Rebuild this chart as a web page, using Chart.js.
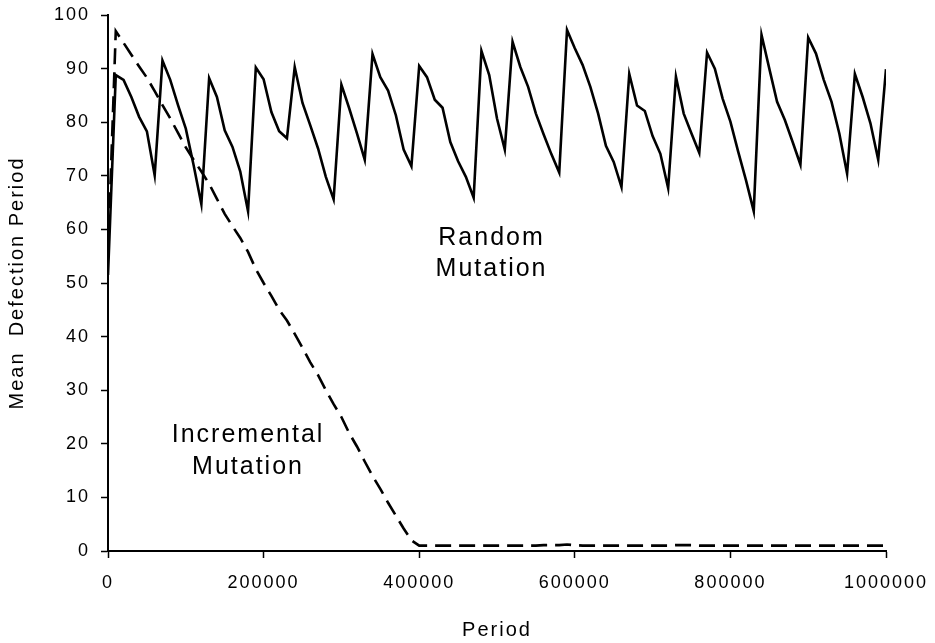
<!DOCTYPE html>
<html>
<head>
<meta charset="utf-8">
<script src="https://cdn.jsdelivr.net/npm/chart.js@4/dist/chart.umd.min.js"></script>
<style>
  html, body { margin: 0; padding: 0; background: #fff; }
  #wrap { width: 935px; height: 643px; }
</style>
</head>
<body>
<div id="wrap"><canvas id="myChart" width="935" height="643"></canvas></div>
<script>
// mean defection period sampled every 10000 periods
var periods = [];
for (let i = 0; i <= 100; i++) periods.push(i * 10000);

var randomMutation = [
    51.5, 88.8, 87.9, 84.7, 81.0, 78.3, 70.1, 91.5, 87.9, 83.2,
    78.8, 72.0, 64.7, 88.2, 84.7, 78.5, 75.4, 70.8, 63.4, 90.2,
    88.0, 81.9, 78.3, 77.0, 90.3, 83.6, 79.4, 75.1, 69.8, 65.6,
    87.0, 82.6, 77.9, 73.0, 92.7, 88.4, 85.9, 81.3, 74.9, 71.8,
    90.5, 88.4, 84.2, 82.7, 76.3, 72.7, 69.8, 65.9, 93.3, 88.8,
    80.7, 74.9, 95.0, 90.3, 86.6, 81.6, 77.7, 74.0, 70.6, 97.2,
    93.8, 90.7, 86.6, 81.6, 75.6, 72.6, 67.9, 89.0, 83.1, 82.1,
    77.4, 74.1, 67.7, 88.5, 81.6, 77.9, 74.3, 93.0, 90.0, 84.4,
    80.1, 74.5, 69.2, 63.4, 96.3, 90.0, 83.8, 80.4, 76.3, 72.1,
    95.8, 92.8, 87.9, 83.8, 77.9, 70.4, 89.0, 84.7, 79.8, 73.0,
    89.9
];

var incrementalMutation = [
    55.0, 97.0, 94.8, 92.6, 90.4, 88.3, 85.8, 83.2, 80.7, 78.0,
    75.3, 73.0, 70.8, 68.5, 65.7, 62.9, 60.6, 58.4, 55.8, 52.6,
    50.0, 47.6, 45.0, 43.0, 40.5, 37.9, 35.2, 32.8, 30.0, 27.4,
    25.0, 22.0, 19.5, 16.7, 14.0, 11.6, 9.0, 6.6, 4.2, 2.0,
    1.0, 1.0, 1.0, 1.0, 1.0, 1.0, 1.0, 1.0, 1.0, 1.0,
    1.0, 1.0, 1.0, 1.0, 1.0, 1.0, 1.1, 1.1, 1.1, 1.2,
    1.1, 1.0, 1.0, 1.0, 1.0, 1.0, 1.0, 1.0, 1.0, 1.0,
    1.0, 1.0, 1.0, 1.1, 1.1, 1.1, 1.0, 1.0, 1.0, 1.0,
    1.0, 1.0, 1.0, 1.0, 1.0, 1.0, 1.0, 1.0, 1.0, 1.0,
    1.0, 1.0, 1.0, 1.0, 1.0, 1.0, 1.0, 1.0, 1.0, 1.0,
    1.0
];

var seriesNames = ["Random Mutation", "Incremental Mutation"];
var xTitle = "Period";
var yTitle = "Mean  Defection Period";

var font_family = "'Liberation Sans', Arial, sans-serif";

function toPoints(values) {
    var pts = [];
    for (let i = 0; i < values.length; i++) {
        pts.push({ x: periods[i], y: values[i] });
    }
    return pts;
}

// letter spacing like the original figure
var spacingPlugin = {
    id: 'spacing',
    beforeLayout: function (chart) { chart.ctx.letterSpacing = '2px'; },
    beforeDraw: function (chart) { chart.ctx.letterSpacing = '2px'; }
};

// in-plot labels next to each curve
var curveLabels = [
    { lines: ["Random", "Mutation"], x: 493000, y: [58.4, 52.5] },
    { lines: ["Incremental", "Mutation"], x: 180000, y: [21.6, 15.7] }
];

var labelPlugin = {
    id: 'curveLabels',
    afterDatasetsDraw: function (chart) {
        var ctx = chart.ctx;
        var xs = chart.scales.x, ys = chart.scales.y;
        ctx.save();
        ctx.letterSpacing = '2px';
        ctx.font = "25px " + font_family;
        ctx.fillStyle = '#000';
        ctx.textAlign = 'center';
        ctx.textBaseline = 'middle';
        curveLabels.forEach(function (lab) {
            lab.lines.forEach(function (txt, k) {
                ctx.fillText(txt, xs.getPixelForValue(lab.x), ys.getPixelForValue(lab.y[k]));
            });
        });
        ctx.restore();
    }
};

var ctx = document.getElementById('myChart').getContext('2d');
var chart = new Chart(ctx, {
    type: 'line',
    data: {
        datasets: [
            {
                label: seriesNames[0],
                data: toPoints(randomMutation),
                borderColor: '#000',
                borderWidth: 2.6,
                pointRadius: 0,
                tension: 0,
                fill: false
            },
            {
                label: seriesNames[1],
                data: toPoints(incrementalMutation),
                borderColor: '#000',
                borderWidth: 2.6,
                borderDash: [16, 8],
                pointRadius: 0,
                tension: 0,
                fill: false
            }
        ]
    },
    options: {
        responsive: false,
        animation: false,
        layout: { padding: { left: 0, right: 49, top: 15, bottom: 0 } },
        plugins: {
            legend: { display: false },
            tooltip: { enabled: false }
        },
        scales: {
            x: {
                type: 'linear',
                min: 0,
                max: 1000000,
                afterFit: function (scale) {
                    scale.height = 92;
                    scale.paddingLeft = 0;
                    scale.paddingRight = 0;
                },
                border: { display: true, color: '#000', width: 2 },
                grid: { drawOnChartArea: false, drawTicks: true, tickLength: 7, tickColor: '#000', tickWidth: 1.5 },
                ticks: {
                    stepSize: 200000,
                    maxRotation: 0,
                    padding: 14,
                    color: '#000',
                    font: { family: font_family, size: 18 },
                    callback: function (v) { return String(v); }
                },
                title: {
                    display: true,
                    text: xTitle,
                    color: '#000',
                    font: { family: font_family, size: 20 },
                    padding: { top: 0, bottom: 1 }
                }
            },
            y: {
                min: 0,
                max: 100,
                afterFit: function (scale) {
                    scale.width = 108;
                    scale.paddingTop = 0;
                    scale.paddingBottom = 0;
                },
                border: { display: true, color: '#000', width: 2 },
                grid: { drawOnChartArea: false, drawTicks: true, tickLength: 7, tickColor: '#000', tickWidth: 1.5 },
                ticks: {
                    stepSize: 10,
                    padding: 11,
                    color: '#000',
                    font: { family: font_family, size: 18 }
                },
                title: {
                    display: true,
                    text: yTitle,
                    color: '#000',
                    font: { family: font_family, size: 20 },
                    padding: { top: 5, bottom: 0 }
                }
            }
        }
    },
    plugins: [spacingPlugin, labelPlugin]
});
</script>
</body>
</html>
